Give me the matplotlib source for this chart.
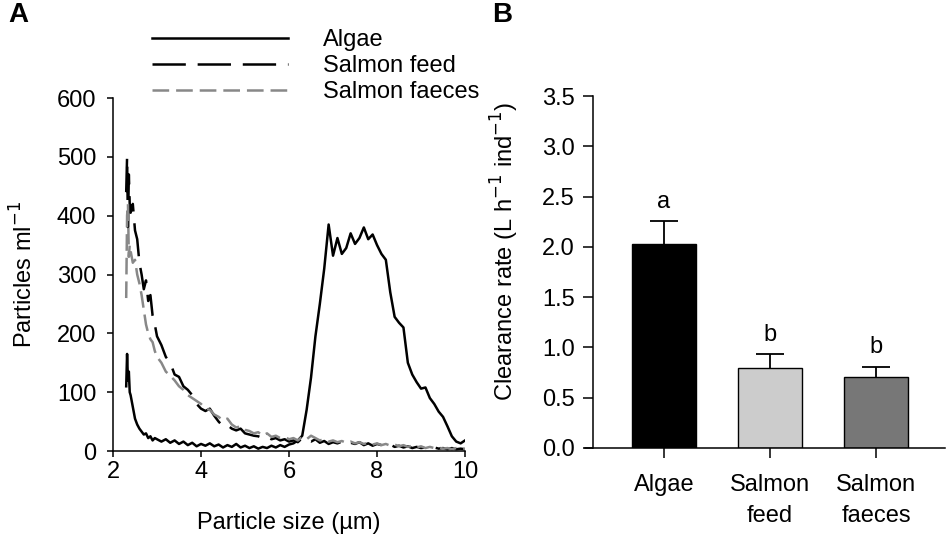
#!/usr/bin/env python3
# -*- coding: utf-8 -*-
"""
Particle size spectra (A) and clearance rates (B) for algae,
salmon feed and salmon faeces.
"""
import numpy as np
import matplotlib
matplotlib.use("Agg")
import matplotlib.pyplot as plt

# ---------------------------------------------------------------- data
# particle size (um), denser sampling at the small end
size_um = [2.30, 2.32, 2.34, 2.36, 2.38, 2.40, 2.45, 2.50, 2.55, 2.60,
           2.65, 2.70, 2.75, 2.80, 2.85, 2.90, 2.95, 3.00,
           3.1, 3.2, 3.3, 3.4, 3.5, 3.6, 3.7, 3.8, 3.9, 4.0,
           4.1, 4.2, 4.3, 4.4, 4.5, 4.6, 4.7, 4.8, 4.9, 5.0,
           5.1, 5.2, 5.3, 5.4, 5.5, 5.6, 5.7, 5.8, 5.9, 6.0,
           6.1, 6.2, 6.3, 6.4, 6.5, 6.6, 6.7, 6.8, 6.9, 7.0,
           7.1, 7.2, 7.3, 7.4, 7.5, 7.6, 7.7, 7.8, 7.9, 8.0,
           8.1, 8.2, 8.3, 8.4, 8.5, 8.6, 8.7, 8.8, 8.9, 9.0,
           9.1, 9.2, 9.3, 9.4, 9.5, 9.6, 9.7, 9.8, 9.9, 10.0]

algae_ml = [110, 165, 120, 135, 100, 95, 75, 55, 45, 38,
            33, 28, 30, 22, 25, 18, 22, 20,
            16, 20, 14, 18, 12, 16, 10, 14, 8, 12,
            9, 13, 8, 11, 6, 10, 7, 12, 6, 9,
            5, 8, 4, 7, 5, 9, 6, 10, 7, 11,
            13, 18, 26, 70, 125, 195, 250, 310, 385, 332,
            362, 335, 345, 370, 352, 362, 380, 360, 368, 350,
            335, 325, 270, 228, 218, 210, 150, 130, 117, 106,
            108, 90, 80, 67, 58, 42, 25, 16, 13, 18]

feed_ml = [440, 500, 380, 470, 420, 405, 420, 375, 360, 320,
           300, 275, 290, 255, 265, 230, 215, 195,
           180, 160, 150, 130, 126, 110, 104, 95, 80, 72,
           68, 72, 60, 50, 42, 44, 38, 35, 38, 30,
           28, 26, 25, 22, 24, 20, 22, 18, 20, 16,
           18, 15, 22, 18, 16, 20, 14, 17, 12, 15,
           13, 16, 11, 14, 12, 15, 10, 13, 9, 12,
           10, 8, 11, 7, 9, 6, 8, 5, 7, 5,
           6, 4, 6, 4, 5, 3, 5, 3, 4, 3]

faeces_ml = [260, 400, 420, 330, 350, 340, 320, 325, 300, 285,
             265, 240, 215, 200, 190, 185, 170, 160,
             150, 135, 128, 120, 110, 104, 95, 90, 85, 80,
             72, 70, 62, 58, 52, 55, 45, 40, 42, 36,
             34, 30, 32, 26, 30, 24, 26, 22, 24, 20,
             22, 18, 24, 20, 26, 22, 18, 20, 16, 18,
             15, 17, 14, 16, 13, 15, 12, 14, 11, 13,
             10, 12, 9, 11, 8, 10, 7, 9, 6, 8,
             5, 7, 5, 6, 4, 5, 3, 5, 3, 4]

# clearance rates (L h-1 ind-1), mean and upper SE
diets = ["Algae", "Salmon\nfeed", "Salmon\nfaeces"]
clearance = [2.03, 0.80, 0.71]
clearance_se = [0.23, 0.13, 0.10]
letters = ["a", "b", "b"]
bar_colors = ["#000000", "#cccccc", "#777777"]

# ---------------------------------------------------------------- style
plt.rcParams["font.family"] = ["Liberation Sans", "DejaVu Sans"]
plt.rcParams["font.size"] = 17
plt.rcParams["lines.scale_dashes"] = False
plt.rcParams["axes.linewidth"] = 1.1

fig = plt.figure(figsize=(9.52, 5.40), dpi=100)

# ---------------------------------------------------------------- panel A
axA = fig.add_axes([0.1187, 0.1648, 0.3698, 0.6537])
la, = axA.plot(size_um, algae_ml, color="black", lw=1.8, label="Algae")
lf, = axA.plot(size_um, feed_ml, color="black", lw=1.8, dashes=(24, 8.5),
               label="Salmon feed")
lc, = axA.plot(size_um, faeces_ml, color="#888888", lw=1.8, dashes=(12, 5),
               label="Salmon faeces")
axA.set_xlim(2, 10)
axA.set_ylim(0, 600)
axA.set_xticks([2, 4, 6, 8, 10])
axA.set_yticks(np.arange(0, 601, 100))
axA.spines["top"].set_visible(False)
axA.spines["right"].set_visible(False)
axA.tick_params(direction="out", length=4, width=1.1, pad=3)
axA.tick_params(axis="y", pad=8)
axA.set_xlabel("Particle size (\u00b5m)", labelpad=21)
axA.set_ylabel("Particles ml$^{-1}$", labelpad=14)

fig.legend(handles=[la, lf, lc], loc="upper left",
           bbox_to_anchor=(152 / 952, 1 - 29 / 540), frameon=False,
           borderpad=0, borderaxespad=0, handlelength=5.76,
           handletextpad=1.48, labelspacing=0.18)

# ---------------------------------------------------------------- panel B
axB = fig.add_axes([585 / 952, 0.1704, 360 / 952, 0.6518])
pos = np.arange(len(diets))
axB.bar(pos, clearance, width=0.6, color=bar_colors, edgecolor="black",
        linewidth=1.0, zorder=2)
eb = axB.errorbar(pos, clearance, yerr=[np.zeros(len(pos)), clearance_se],
                  fmt="none", ecolor="black", elinewidth=1.3, capsize=10,
                  capthick=1.3, zorder=3)
eb[1][0].set_visible(False)   # only the upper cap
for p, m, s, t in zip(pos, clearance, clearance_se, letters):
    axB.text(p, m + s + 0.08, t, ha="center", va="bottom")
axB.set_xlim(-0.745, 2.651)
axB.set_ylim(0, 3.5)
axB.set_yticks(np.arange(0, 3.51, 0.5))
axB.yaxis.set_major_formatter(matplotlib.ticker.FormatStrFormatter("%.1f"))
axB.set_xticks(pos)
axB.set_xticklabels(diets, linespacing=1.5)
axB.spines["top"].set_visible(False)
axB.spines["right"].set_visible(False)
axB.spines["left"].set_position(("data", -0.67))
axB.tick_params(direction="out", length=7, width=1.1)
axB.tick_params(axis="x", pad=12)
axB.tick_params(axis="y", pad=6)
axB.set_ylabel("Clearance rate (L h$^{-1}$ ind$^{-1}$)")
axB.yaxis.set_label_coords(-0.178, 0.56)

# panel letters
fig.text(8 / 952, 1 - 2 / 540, "A", fontsize=20, fontweight="bold",
         va="top", ha="left")
fig.text(492 / 952, 1 - 2 / 540, "B", fontsize=20, fontweight="bold",
         va="top", ha="left")

fig.savefig("out.png", dpi=100)
